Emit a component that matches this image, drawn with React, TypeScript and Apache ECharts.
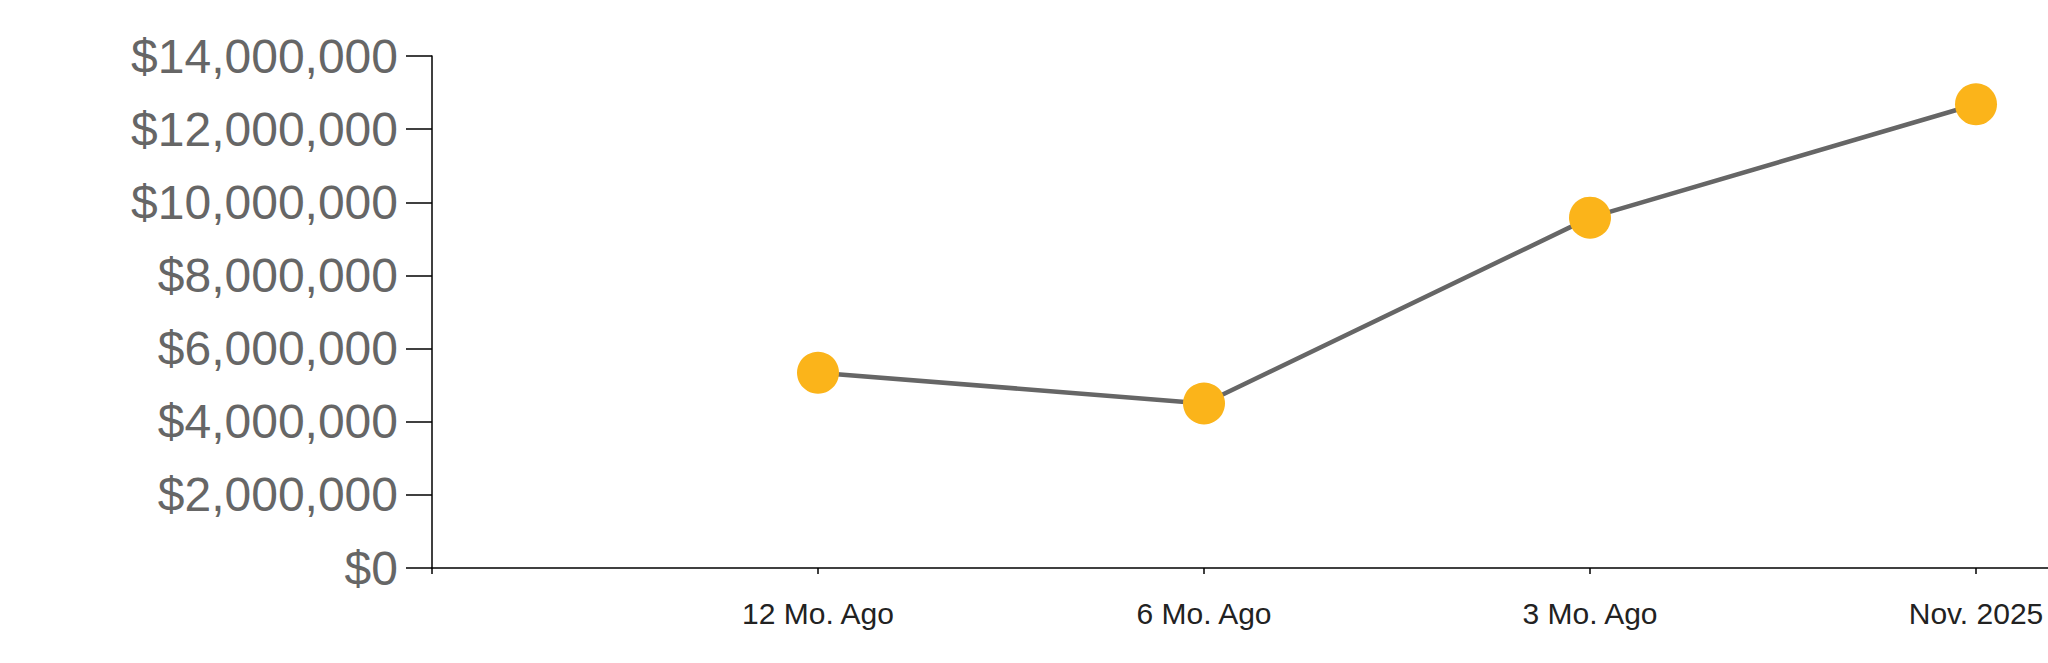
import React, { useEffect, useRef } from "react";
import * as echarts from "echarts";

const categories: string[] = ["", "12 Mo. Ago", "6 Mo. Ago", "3 Mo. Ago", "Nov. 2025", ""];
const values: (number | null)[] = [null, 5340000, 4500000, 9580000, 12680000, null];
const yTicks: number[] = [0, 2000000, 4000000, 6000000, 8000000, 10000000, 12000000, 14000000];

const fmtMoney = (v: number) => "$" + Math.round(v).toLocaleString("en-US");

export default function App() {
  const ref = useRef<HTMLDivElement>(null);
  useEffect(() => {
    if (!ref.current) return;
    const chart = echarts.init(ref.current, undefined, { renderer: "svg" });
    chart.setOption({
      animation: false,
      backgroundColor: "#ffffff",
      grid: {
        left: 432,
        top: 56,
        width: 1930,
        height: 512,
        containLabel: false,
        outerBoundsMode: "none",
      },
      xAxis: {
        type: "category",
        data: categories,
        boundaryGap: false,
        axisLine: { show: true, lineStyle: { color: "#000000", width: 1.5 } },
        axisTick: { show: true, length: 6, lineStyle: { color: "#000000", width: 1.5 } },
        axisLabel: {
          show: true,
          interval: 0,
          margin: 30,
          color: "#222222",
          fontSize: 30,
          fontFamily: "Liberation Sans, Arial, sans-serif",
        },
        splitLine: { show: false },
      },
      yAxis: {
        type: "value",
        min: yTicks[0],
        max: yTicks[yTicks.length - 1],
        interval: yTicks[1] - yTicks[0],
        axisLine: { show: true, lineStyle: { color: "#000000", width: 1.5 } },
        axisTick: { show: true, length: 26, lineStyle: { color: "#000000", width: 1.5 } },
        axisLabel: {
          margin: 34,
          color: "#666666",
          fontSize: 48,
          fontFamily: "Liberation Sans, Arial, sans-serif",
          formatter: (v: number) => fmtMoney(v),
        },
        splitLine: { show: false },
      },
      series: [
        {
          type: "line",
          data: values,
          connectNulls: false,
          symbol: "circle",
          symbolSize: 42,
          showSymbol: true,
          lineStyle: { color: "#666666", width: 4.5 },
          itemStyle: { color: "#FBB41A", borderWidth: 0 },
          z: 3,
        },
      ],
    });
    return () => chart.dispose();
  }, []);
  return (
    <div
      ref={ref}
      style={{ position: "fixed", left: 0, top: 0, width: 2048, height: 663, background: "#fff" }}
    />
  );
}
